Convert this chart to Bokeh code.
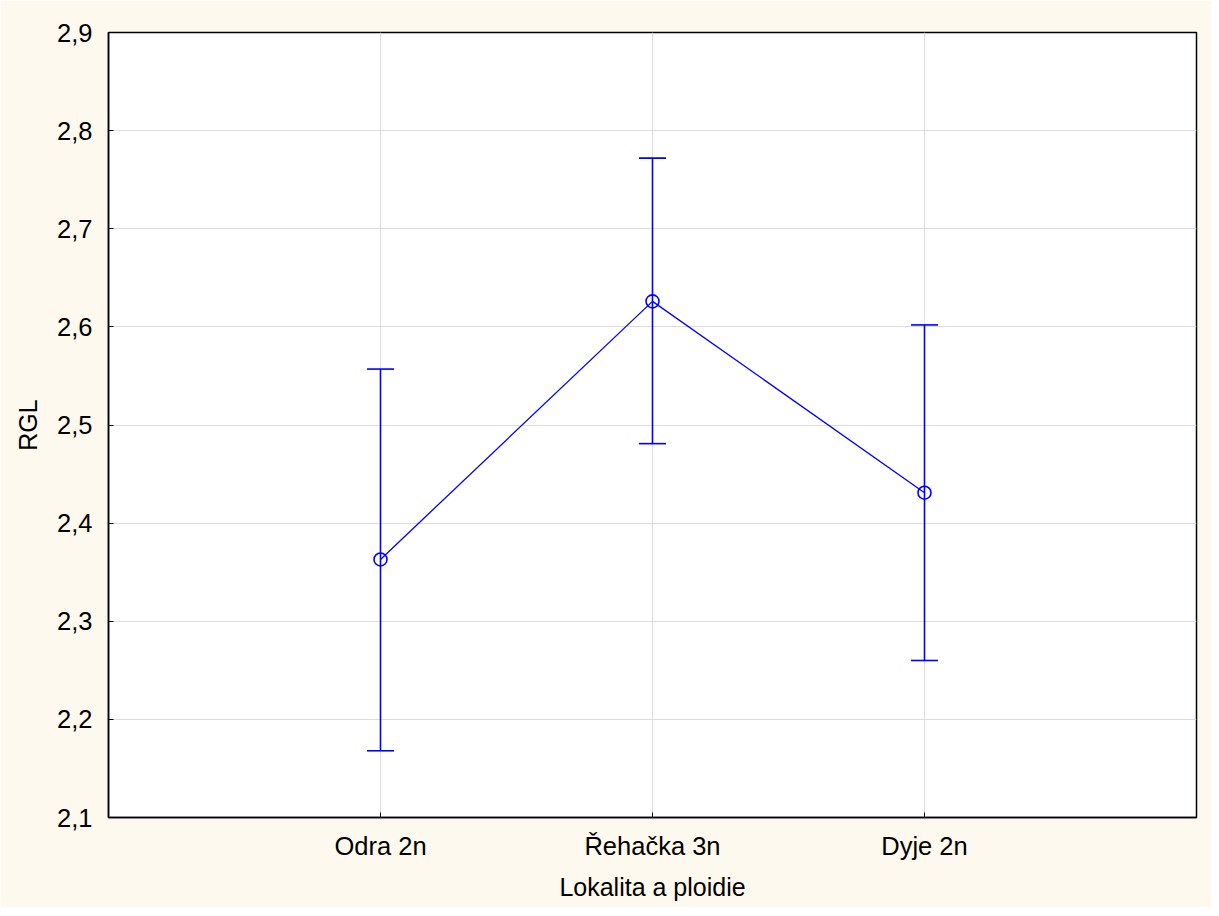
from bokeh.plotting import figure
from bokeh.models import Range1d, FixedTicker, CustomJSTickFormatter, ColumnDataSource, Whisker, TeeHead
from bokeh.embed import file_html
from bokeh.resources import INLINE

categories = ["Odra 2n", "Řehačka 3n", "Dyje 2n"]
means = [2.363, 2.626, 2.431]
upper = [2.557, 2.772, 2.602]
lower = [2.168, 2.481, 2.260]
y_ticks = [2.1, 2.2, 2.3, 2.4, 2.5, 2.6, 2.7, 2.8, 2.9]

xpos = [i + 1 for i in range(len(categories))]
src = ColumnDataSource(dict(x=xpos, mean=means, upper=upper, lower=lower))

FONT = "Liberation Sans"
BG = "#FDF9EE"
BLUE = "#0000FF"

p = figure(width=1211, height=907, output_backend="svg", toolbar_location=None,
           x_range=Range1d(0, len(categories) + 1), y_range=Range1d(y_ticks[0], y_ticks[-1]),
           min_border_left=108, min_border_top=32, min_border_right=15, min_border_bottom=90)
p.background_fill_color = "white"
p.border_fill_color = BG
p.outline_line_color = "black"
p.outline_line_width = 1.5

p.xaxis.ticker = FixedTicker(ticks=xpos)
p.xaxis.formatter = CustomJSTickFormatter(args=dict(labels=categories),
                                          code="return labels[Math.round(tick) - 1] || '';")
p.yaxis.ticker = FixedTicker(ticks=y_ticks)
p.yaxis.formatter = CustomJSTickFormatter(code="return tick.toFixed(1).replace('.', ',');")

p.xaxis.axis_label = "Lokalita a ploidie"
p.yaxis.axis_label = "RGL"

for ax in (p.xaxis[0], p.yaxis[0]):
    ax.axis_line_color = "black"
    ax.axis_line_width = 1.5
    ax.major_tick_in = 5
    ax.major_tick_out = 0
    ax.minor_tick_in = 0
    ax.minor_tick_out = 0
    ax.major_tick_line_color = "black"
    ax.major_label_text_font = FONT
    ax.major_label_text_font_size = "25.5px"
    ax.major_label_text_color = "black"
    ax.axis_label_text_font = FONT
    ax.axis_label_text_font_size = "25px"
    ax.axis_label_text_font_style = "normal"
    ax.axis_label_text_color = "black"

p.xaxis.major_label_standoff = 14
p.xaxis.axis_label_standoff = 10
p.yaxis.major_label_standoff = 16
p.yaxis.axis_label_standoff = 12
p.yaxis.major_label_orientation = "horizontal"

p.xgrid.grid_line_color = "#DCDCDC"
p.ygrid.grid_line_color = "#DCDCDC"
p.xgrid.grid_line_width = 1
p.ygrid.grid_line_width = 1

w = Whisker(source=src, base="x", upper="upper", lower="lower", dimension="height",
            line_color=BLUE, line_width=1.6,
            upper_head=TeeHead(size=27, line_color=BLUE, line_width=1.6),
            lower_head=TeeHead(size=27, line_color=BLUE, line_width=1.6))
p.add_layout(w)

p.line("x", "mean", source=src, line_color=BLUE, line_width=1.3)
p.scatter("x", "mean", source=src, marker="circle", size=13, fill_alpha=0,
          line_color=BLUE, line_width=1.6)

open("out.html", "w").write(file_html(p, INLINE))
